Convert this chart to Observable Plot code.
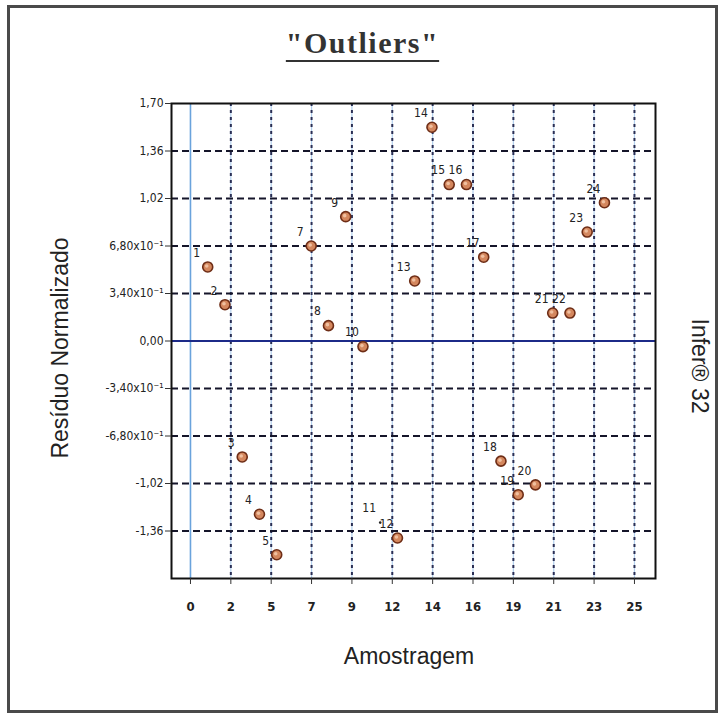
<!DOCTYPE html>
<html>
<head>
<meta charset="utf-8">
<script src="https://cdn.jsdelivr.net/npm/d3@7"></script>
<script src="https://cdn.jsdelivr.net/npm/@observablehq/plot@0.6"></script>
<style>
  html, body { margin: 0; padding: 0; background: #fff; }
  #wrap { position: relative; width: 725px; height: 720px; overflow: hidden; background: #fff; }
  #wrap svg { position: absolute; left: 0; top: 0; }
  .border { position: absolute; left: 7px; top: 5px; width: 711px; height: 708px; border: 3px solid #4a4a4a; box-sizing: border-box; }
  .title { position: absolute; left: 0; width: 725px; top: 26px; text-align: center;
           font-family: "Liberation Serif", "Times New Roman", serif; font-weight: bold; font-size: 30px;
           letter-spacing: 1.5px; color: #333;
           text-decoration: underline; text-decoration-thickness: 2px; text-underline-offset: 7px; }
  .xlabel { position: absolute; left: 0; width: 818px; top: 643px; text-align: center;
            font-family: "Liberation Sans", Arial, sans-serif; font-size: 23px; color: #222; }
  .ylabel { position: absolute; left: 60px; top: 348px; transform: translate(-50%, -50%) rotate(-90deg);
            white-space: nowrap; font-family: "Liberation Sans", Arial, sans-serif; font-size: 23px; color: #222; }
  .rlabel { position: absolute; left: 699px; top: 366px; transform: translate(-50%, -50%) rotate(90deg);
            white-space: nowrap; font-family: "Liberation Sans", Arial, sans-serif; font-size: 23px; color: #222; }
</style>
</head>
<body>
<div id="wrap">
  <div class="border"></div>
  <div class="title">"Outliers"</div>
  <div class="ylabel">Resíduo Normalizado</div>
  <div class="rlabel">Infer® 32</div>
  <div class="xlabel">Amostragem</div>
</div>
<script>
// Sample numbers and normalized residuals
const samples   = [1, 2, 3, 4, 5, 7, 8, 9, 10, 11, 12, 13, 14, 15, 16, 17, 18, 19, 20, 21, 22, 23, 24];
const residuals = [0.53, 0.26, -0.83, -1.24, -1.53, 0.68, 0.11, 0.89, -0.04, -1.30, -1.41, 0.43, 1.53, 1.12, 1.12, 0.60, -0.86, -1.10, -1.03, 0.20, 0.20, 0.78, 0.99];
// Samples whose marker is hidden under another label in the original
const faintSamples = [11];

// Axis ticks
const xTickValues = [0, 2.34, 4.68, 7.02, 9.36, 11.70, 14.04, 16.38, 18.72, 21.06, 23.40, 25.74];
const xTickLabels = ["0", "2", "5", "7", "9", "12", "14", "16", "19", "21", "23", "25"];
const yTickValues = [1.70, 1.36, 1.02, 0.68, 0.34, 0, -0.34, -0.68, -1.02, -1.36];
const yTickLabels = ["1,70", "1,36", "1,02", "6,80x10⁻¹", "3,40x10⁻¹", "0,00", "-3,40x10⁻¹", "-6,80x10⁻¹", "-1,02", "-1,36"];
const yGridValues = [1.36, 1.02, 0.68, 0.34, -0.34, -0.68, -1.02, -1.36];
const xGridValues = [2.34, 4.68, 7.02, 9.36, 11.70, 14.04, 16.38, 18.72, 21.06, 23.40, 25.74];

const points = samples.map((s, i) => ({sample: s, residual: residuals[i]}));
const shown = points.filter(d => !faintSamples.includes(d.sample));
const faint = points.filter(d => faintSamples.includes(d.sample));

const xLabelMap = new Map(xTickValues.map((v, i) => [v, xTickLabels[i]]));
const yLabelMap = new Map(yTickValues.map((v, i) => [v, yTickLabels[i]]));

const tickFont = '"DejaVu Sans Condensed", "Liberation Sans", sans-serif';

const chart = Plot.plot({
  width: 725,
  height: 720,
  marginLeft: 171,
  marginRight: 70,
  marginTop: 103,
  marginBottom: 142,
  style: {background: "transparent", fontFamily: tickFont, color: "#222"},
  x: {domain: [-1.10, 26.96]},
  y: {domain: [-1.70, 1.70]},
  marks: [
    // vertical grid: light blue under dark dashes
    Plot.ruleX(xGridValues, {stroke: "#b3d0ee", strokeWidth: 1.2}),
    Plot.ruleX(xGridValues, {stroke: "#2b2f55", strokeWidth: 2, strokeDasharray: "3,4"}),
    // horizontal dashed grid
    Plot.ruleY(yGridValues, {stroke: "#15152a", strokeWidth: 2, strokeDasharray: "7,4"}),
    // zero lines
    Plot.ruleX([0], {stroke: "#6aa3dc", strokeWidth: 1.6}),
    Plot.ruleY([0], {stroke: "#1c2a88", strokeWidth: 2}),
    Plot.frame({stroke: "#111", strokeWidth: 2}),
    Plot.axisX({
      ticks: xTickValues, tickFormat: d => xLabelMap.get(d),
      tickSize: 6, tickPadding: 17, fontSize: 13, fontWeight: "bold", label: null, stroke: "#333"
    }),
    Plot.axisY({
      ticks: yTickValues, tickFormat: d => yLabelMap.get(d),
      tickSize: 6, tickPadding: 2, fontSize: 12, label: null, stroke: "#333"
    }),
    // markers
    Plot.dot(shown, {x: "sample", y: "residual", r: 5, fill: "#d4875e", stroke: "#6e2d16", strokeWidth: 1.6}),
    Plot.dot(shown, {x: "sample", y: "residual", r: 1.8, dx: -1, dy: -1, fill: "#f0c0a0"}),
    Plot.dot(faint, {x: "sample", y: "residual", r: 1.3, fill: "#222"}),
    // point labels
    Plot.text(points, {x: "sample", y: "residual", text: d => String(d.sample), dx: -11, dy: -14,
      fontSize: 12, fill: "#222"})
  ]
});
document.getElementById("wrap").prepend(chart);
</script>
</body>
</html>
